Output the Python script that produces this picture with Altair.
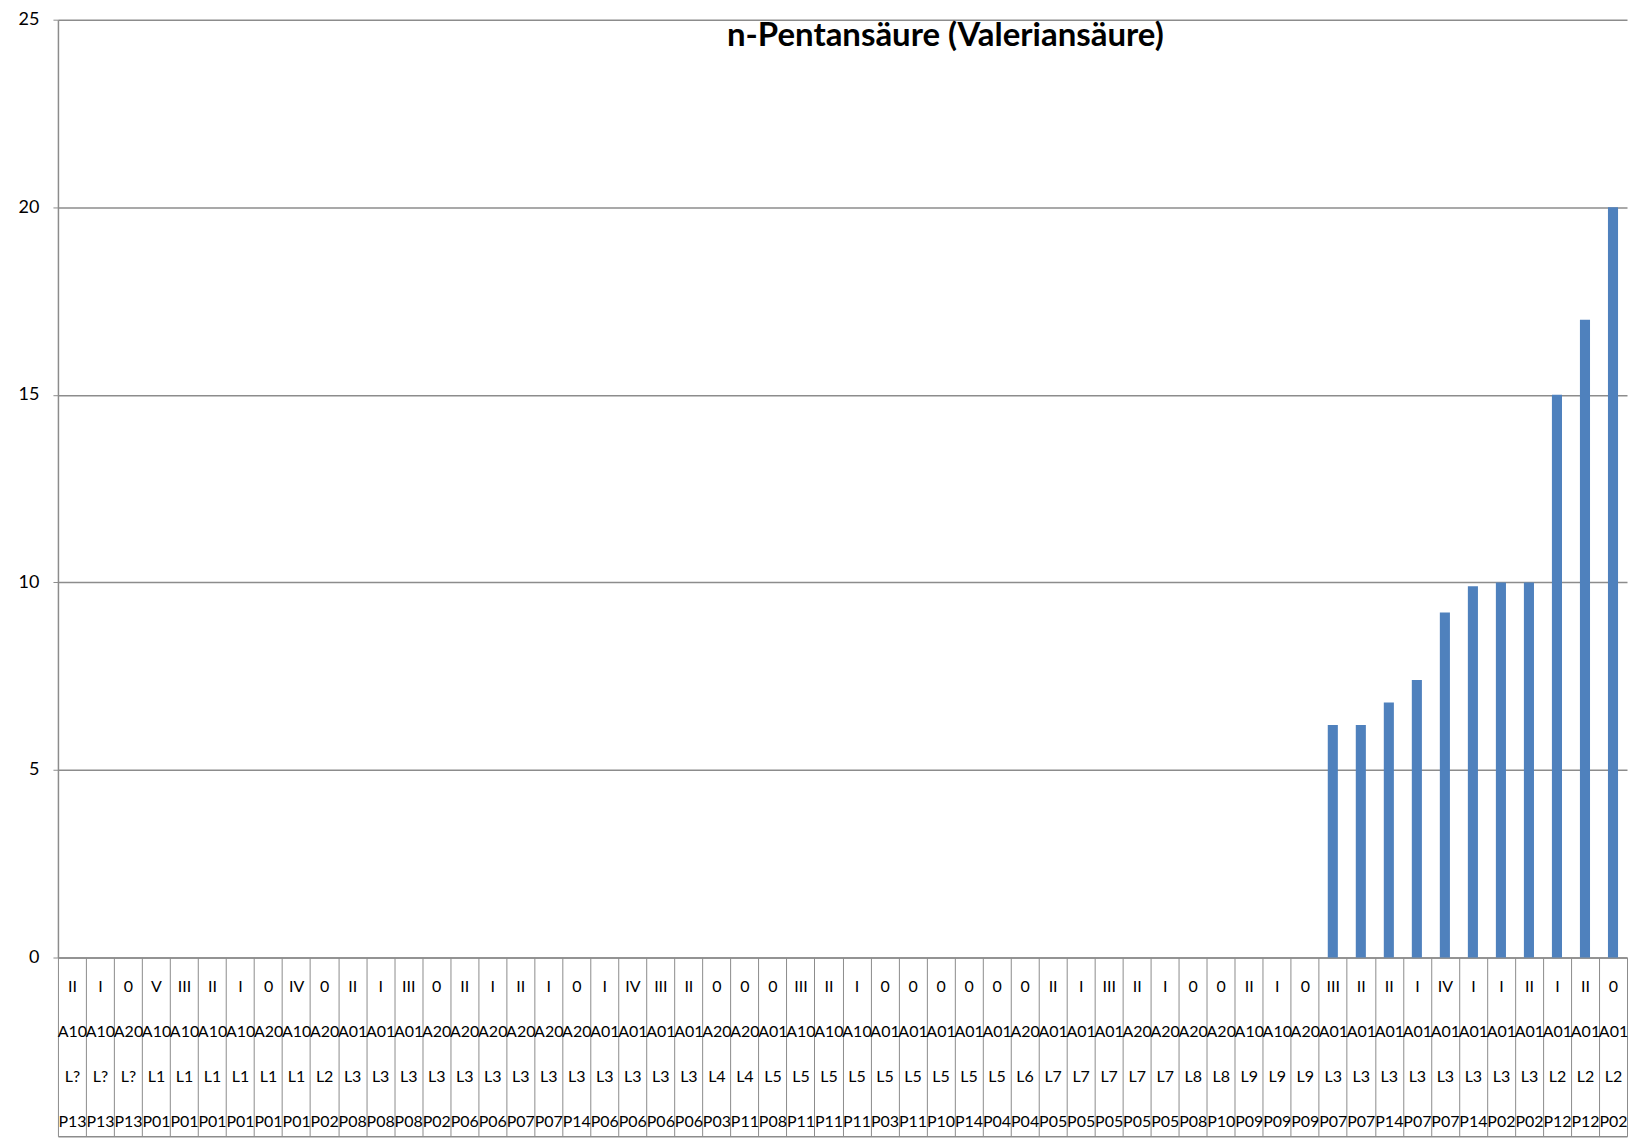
import altair as alt
import pandas as pd

roman = ["II","I","0","V","III","II","I","0","IV","0",
         "II","I","III","0","II","I","II","I","0","I",
         "IV","III","II","0","0","0","III","II","I","0",
         "0","0","0","0","0","II","I","III","II","I",
         "0","0","II","I","0","III","II","II","I","IV",
         "I","I","II","I","II","0"]
area = ["A10","A10","A20","A10","A10","A10","A10","A20","A10","A20",
        "A01","A01","A01","A20","A20","A20","A20","A20","A20","A01",
        "A01","A01","A01","A20","A20","A01","A10","A10","A10","A01",
        "A01","A01","A01","A01","A20","A01","A01","A01","A20","A20",
        "A20","A20","A10","A10","A20","A01","A01","A01","A01","A01",
        "A01","A01","A01","A01","A01","A01"]
level = ["L?","L?","L?","L1","L1","L1","L1","L1","L1","L2",
         "L3","L3","L3","L3","L3","L3","L3","L3","L3","L3",
         "L3","L3","L3","L4","L4","L5","L5","L5","L5","L5",
         "L5","L5","L5","L5","L6","L7","L7","L7","L7","L7",
         "L8","L8","L9","L9","L9","L3","L3","L3","L3","L3",
         "L3","L3","L3","L2","L2","L2"]
probe = ["P13","P13","P13","P01","P01","P01","P01","P01","P01","P02",
         "P08","P08","P08","P02","P06","P06","P07","P07","P14","P06",
         "P06","P06","P06","P03","P11","P08","P11","P11","P11","P03",
         "P11","P10","P14","P04","P04","P05","P05","P05","P05","P05",
         "P08","P10","P09","P09","P09","P07","P07","P14","P07","P07",
         "P14","P02","P02","P12","P12","P02"]
values = [0]*45 + [6.2, 6.2, 6.8, 7.4, 9.2, 9.9, 10.0, 10.0, 15.0, 17.0, 20.0]

keys = [f"{i:02d}|{r}|{a}|{l}|{p}" for i, (r, a, l, p) in enumerate(zip(roman, area, level, probe))]
df = pd.DataFrame({"key": keys, "value": values})

GRAY = "#8c8c8c"
xscale = alt.Scale(paddingInner=0, paddingOuter=0)
yscale = alt.Scale(domain=[0, 25], nice=False)

bars = alt.Chart(df).mark_bar(color="#4F81BD", width=alt.RelativeBandSize(0.36)).encode(
    x=alt.X("key:N", sort=None, scale=xscale, title=None,
            axis=alt.Axis(orient="bottom",
                          labelExpr="slice(split(datum.label, '|'), 1)",
                          labelAngle=0, labelFont="Lato", labelFontSize=16,
                          labelColor="#000000", labelLineHeight=45,
                          labelBaseline="top", labelAlign="center",
                          labelOverlap=False, labelPadding=-158,
                          tickBand="extent", tickSize=179, tickColor=GRAY,
                          tickWidth=1, domainColor=GRAY, domainWidth=1.5,
                          grid=False)),
    y=alt.Y("value:Q", scale=yscale, title=None,
            axis=alt.Axis(values=[0, 5, 10, 15, 20, 25], labelFont="Lato",
                          labelFontSize=18, labelColor="#000000", labelPadding=14,
                          tickSize=5, tickColor=GRAY, domainColor=GRAY,
                          domainWidth=1.5, gridColor=GRAY, gridWidth=1.5,
                          gridOpacity=1)),
)

bottom = alt.Chart(df).mark_bar(opacity=0).encode(
    x=alt.X("key:N", sort=None, scale=xscale, title=None,
            axis=alt.Axis(orient="bottom", offset=179, labels=False, ticks=False,
                          grid=False, domain=True, domainColor=GRAY,
                          domainWidth=1.5)),
)

chart = alt.layer(bars, bottom).resolve_axis(x="independent").properties(
    width=1571, height=939,
    padding={"left": 10, "top": 2, "right": 4, "bottom": 0},
    title=alt.TitleParams("n-Pentansäure (Valeriansäure)", font="Lato",
                          fontSize=33, fontWeight="bold", color="#000000",
                          anchor="middle", baseline="alphabetic",
                          offset=0, dx=103, dy=68),
).configure_view(stroke=None)

chart.save("out.html", embed_options={"renderer": "svg", "actions": False})
